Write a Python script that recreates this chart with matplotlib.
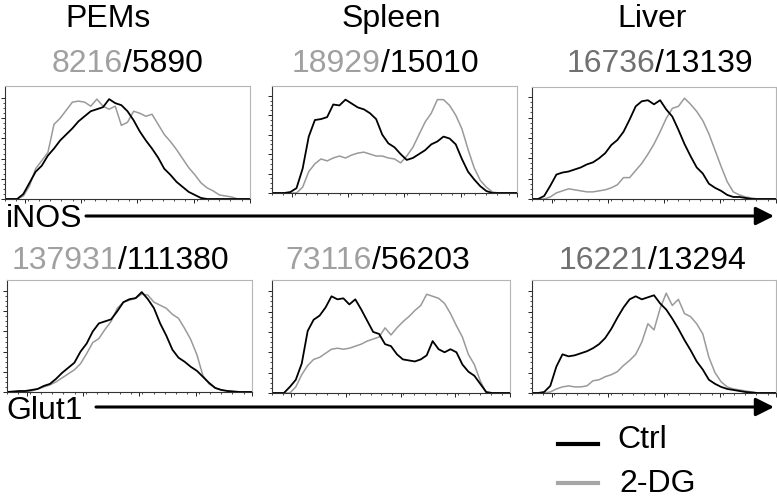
import matplotlib
matplotlib.use("Agg")
import matplotlib.pyplot as plt
from matplotlib.lines import Line2D
from matplotlib.patches import FancyArrowPatch

# fluorescence channel bins (0..1000, step 25)
channel = list(range(0, 1001, 25))

# iNOS histograms (% of max)
pems_inos_ctrl = [0, 0, 0, 5, 16, 27, 33, 43, 50, 58, 64, 70, 77, 82, 87, 89, 91, 99, 95, 93, 87,
                  78, 67, 58, 50, 41, 30, 24, 17, 12, 7, 4, 1, 0, 0, 0, 0, 0, 0, 0, 0]
pems_inos_2dg = [0, 0, 0, 3, 13, 30, 38, 46, 74, 80, 88, 96, 97, 96, 92, 99, 92, 89, 92, 73, 76,
                 87, 85, 82, 84, 74, 64, 57, 49, 40, 31, 24, 16, 11, 8, 4, 3, 2, 0, 0, 0]
spleen_inos_ctrl = [0, 0, 0, 1, 5, 25, 58, 75, 76, 78, 91, 90, 96, 92, 88, 86, 82, 76, 60, 51, 47,
                    40, 34, 36, 40, 44, 50, 53, 58, 56, 50, 35, 22, 14, 7, 2, 0, 0, 0, 0, 0]
spleen_inos_2dg = [0, 0, 0, 0, 0, 6, 22, 30, 35, 33, 36, 38, 36, 39, 41, 42, 40, 38, 38, 36, 35,
                   31, 38, 47, 60, 73, 82, 96, 96, 90, 80, 66, 45, 26, 13, 6, 1, 0, 0, 0, 0]
liver_inos_ctrl = [0, 0, 3, 13, 24, 26, 27, 29, 31, 34, 36, 40, 45, 53, 58, 66, 78, 91, 96, 97, 93,
                   97, 88, 81, 68, 54, 42, 31, 25, 15, 11, 8, 4, 2, 2, 1, 0, 0, 0, 0, 0]
liver_inos_2dg = [0, 0, 0, 2, 6, 8, 10, 9, 8, 7, 7, 8, 9, 11, 14, 21, 21, 28, 35, 44, 54,
                  66, 79, 89, 91, 99, 93, 86, 77, 64, 48, 32, 17, 7, 4, 2, 1, 0, 0, 0, 0]

# Glut1 histograms (% of max)
pems_glut_ctrl = [0, 0.5, 1, 1, 2, 3, 6, 8, 13, 19, 24, 29, 40, 48, 60, 68, 70, 72, 80, 89, 92,
                  93, 99, 92, 83, 68, 56, 42, 34, 30, 25, 21, 15, 9, 4, 2, 1, 0.5, 0, 0, 0]
pems_glut_2dg = [0, 0, 0, 0.5, 1, 3, 5, 7, 10, 14, 18, 22, 28, 38, 49, 53, 62, 70, 83, 89, 91,
                 93, 97, 96, 89, 86, 83, 77, 73, 63, 52, 37, 16, 8, 4, 2, 1, 0.5, 0, 0, 0]
spleen_glut_ctrl = [0, 0, 0, 6, 13, 29, 61, 72, 76, 84, 95, 92, 93, 87, 92, 82, 71, 60, 58, 48, 46,
                    38, 33, 32, 31, 33, 37, 51, 43, 40, 43, 40, 28, 21, 17, 9, 1, 0, 0, 0, 0]
spleen_glut_2dg = [0, 0, 0, 0, 6, 18, 27, 33, 35, 39, 43, 44, 43, 44, 46, 48, 51, 53, 55, 64, 57,
                   64, 70, 75, 81, 86, 97, 95, 93, 88, 78, 66, 55, 38, 28, 12, 0, 0, 0, 0, 0]
liver_glut_ctrl = [0, 0, 1, 7, 26, 38, 36, 37, 39, 41, 44, 48, 54, 63, 74, 84, 92, 95, 92, 94, 96,
                   88, 82, 73, 63, 52, 42, 31, 23, 13, 9, 6, 4, 3, 2, 1, 0.5, 0, 0, 0, 0]
liver_glut_2dg = [0, 0, 0, 1, 4, 6, 7, 6, 6, 7, 12, 13, 16, 18, 21, 27, 32, 38, 50, 68, 62,
                  83, 98, 86, 92, 78, 75, 68, 58, 35, 20, 11, 6, 4, 3, 2, 1, 0, 0, 0, 0]

tissues = ["PEMs", "Spleen", "Liver"]
mfi_inos = [("8216", "5890"), ("18929", "15010"), ("16736", "13139")]
mfi_glut = [("137931", "111380"), ("73116", "56203"), ("16221", "13294")]

plt.rcParams["font.family"] = "Liberation Sans"
fs = 23

W, H = 777, 501
fig = plt.figure(figsize=(W / 100, H / 100), dpi=100)

def box(x0, x1, y0, y1):
    return [x0 / W, 1 - y1 / H, (x1 - x0) / W, (y1 - y0) / H]

def fy(y):
    return 1 - y / H

boxes = [box(5, 250, 86, 199), box(272, 517, 86, 193), box(532, 776, 87, 199),
         box(7, 252, 280, 392), box(272, 510, 280, 393), box(532, 776, 280, 393)]
ytops = [112, 110, 110, 111, 111, 111]
curves = [(pems_inos_ctrl, pems_inos_2dg), (spleen_inos_ctrl, spleen_inos_2dg),
          (liver_inos_ctrl, liver_inos_2dg), (pems_glut_ctrl, pems_glut_2dg),
          (spleen_glut_ctrl, spleen_glut_2dg), (liver_glut_ctrl, liver_glut_2dg)]

gray = "#9a9a9a"
for i in range(6):
    ax = fig.add_axes(boxes[i])
    ctrl, dg = curves[i]
    ax.plot(channel, dg, color=gray, lw=1.1)
    ax.plot(channel, ctrl, color="black", lw=1.3)
    ax.set_xlim(0, 1000)
    ax.set_ylim(0, ytops[i])
    ax.set_yticks(range(0, 101, 20))
    ax.set_yticks(range(0, 101, 5), minor=True)
    ax.set_xticks([80, 310, 540, 770, 1000])
    ax.set_xticks(range(0, 1001, 46), minor=True)
    ax.tick_params(which="major", length=3, width=0.6, labelleft=False, labelbottom=False)
    ax.tick_params(which="minor", length=1.5, width=0.5)
    for s in ["top", "right"]:
        ax.spines[s].set_color("#b5b5b5")
    for s in ["left", "bottom"]:
        ax.spines[s].set_color("#333333")
    for s in ax.spines.values():
        s.set_linewidth(0.8)

num_gray = ["#a0a0a0", "#a0a0a0", "#707070"]
title_x = [108, 391, 652]
for i in range(3):
    fig.text(title_x[i] / W, fy(19), tissues[i], ha="center", va="center", fontsize=fs)

split_top = [123, 381, 655]
split_bot = [118, 372, 648]
for i in range(3):
    fig.text(split_top[i] / W, fy(64), mfi_inos[i][0], ha="right", va="center",
             fontsize=fs, color=num_gray[i])
    fig.text(split_top[i] / W, fy(64), "/" + mfi_inos[i][1], ha="left", va="center",
             fontsize=fs, color="black")
    fig.text(split_bot[i] / W, fy(261), mfi_glut[i][0], ha="right", va="center",
             fontsize=fs, color=num_gray[i])
    fig.text(split_bot[i] / W, fy(261), "/" + mfi_glut[i][1], ha="left", va="center",
             fontsize=fs, color="black")

fig.text(6 / W, fy(219), "iNOS", ha="left", va="center", fontsize=fs)
fig.text(6 / W, fy(411), "Glut1", ha="left", va="center", fontsize=fs)
for x0, y in [(86, 216), (96, 407)]:
    fig.add_artist(FancyArrowPatch((x0 / W, fy(y)), (774 / W, fy(y)),
                                   transform=fig.transFigure,
                                   arrowstyle="-|>,head_length=1.1,head_width=0.55",
                                   mutation_scale=10, lw=2.2, color="black",
                                   shrinkA=0, shrinkB=0))

fig.add_artist(Line2D([558 / W, 598 / W], [fy(444)] * 2, color="black", lw=3,
                      transform=fig.transFigure))
fig.add_artist(Line2D([558 / W, 598 / W], [fy(483)] * 2, color="#a6a6a6", lw=3,
                      transform=fig.transFigure))
fig.text(617 / W, fy(440), "Ctrl", ha="left", va="center", fontsize=fs)
fig.text(619 / W, fy(484), "2-DG", ha="left", va="center", fontsize=fs)

fig.savefig("out.png", dpi=100)
